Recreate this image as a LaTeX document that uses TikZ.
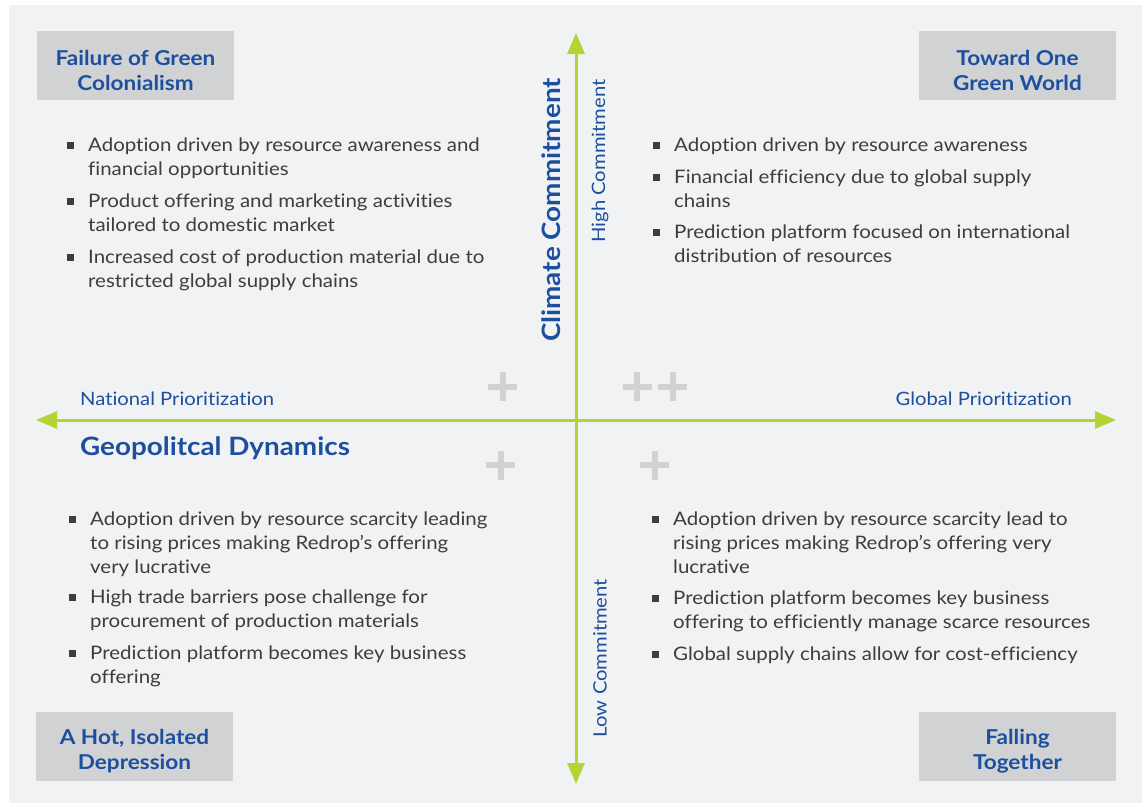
\documentclass[tikz,border=0pt]{standalone}
\usepackage{fontspec}
\setmainfont{Lato}[FakeStretch=1.1, Ligatures=NoCommon]
\usetikzlibrary{arrows.meta,calc}
\definecolor{bgc}{HTML}{F1F2F4}
\definecolor{boxc}{HTML}{D1D2D4}
\definecolor{bluec}{HTML}{1D4F9F}
\definecolor{greenc}{HTML}{B4D334}
\definecolor{textc}{HTML}{3D3D3D}
\definecolor{plusc}{HTML}{D1D2D4}
\newcommand\bulitem[4]{%
  \node[bullettext] (#1) at (#2,#3+1) {\vtop{\baselineskip=24pt\relax #4}};
  \fill[textc] ($(#1.base west)+(-21,-9)$) rectangle ($(#1.base west)+(-14,-2)$);
}
\newcommand\plussign[2]{%
  \draw[plusline] (#1-14.5,#2) -- (#1+14.5,#2) (#1,#2-14.5) -- (#1,#2+14.5);
}
\newcommand\cornerlabel[4]{%
  \node[cornerbox] (#1) at (#2,#3) {};
  \node[cornertext] (#1-text) at ($(#1.center)+(0,4.5)$) {#4};
}
\begin{document}
\begin{tikzpicture}[x=1pt,y=-1pt,
  cornerbox/.style={fill=boxc, minimum width=197pt, minimum height=69pt, inner sep=0pt},
  cornertext/.style={text=bluec, font=\fontsize{20.5}{25}\selectfont\bfseries,
    align=center, inner sep=0pt},
  bullettext/.style={anchor=base west, inner sep=0pt, text=textc,
    font=\fontsize{18.6}{24}\selectfont},
  axislabel/.style={text=bluec, font=\fontsize{18.4}{22}\selectfont, inner sep=0pt},
  axis/.style={draw=greenc, line width=3pt,
    {Triangle[width=17pt,length=21pt]}-{Triangle[width=17pt,length=21pt]}},
  plusline/.style={draw=plusc, line width=6pt}]
\useasboundingbox (0,0) rectangle (1142,803);
\fill[white] (0,0) rectangle (1142,803);
\fill[bgc] (9,5) rectangle (1142,803);

% corner boxes
\cornerlabel{tl}{135.5}{65.5}{Failure of Green\\Colonialism}
\cornerlabel{tr}{1017.5}{65.5}{Toward One\\Green World}
\cornerlabel{bl}{134.5}{746.5}{A Hot, Isolated\\Depression}
\cornerlabel{br}{1017.5}{746.5}{Falling\\Together}

% axes
\coordinate (top) at (576,33);
\coordinate (bottom) at (576,784);
\coordinate (left) at (36,420);
\coordinate (right) at (1116,420);
\draw[axis] (bottom) -- (top);
\draw[axis] (left) -- (right);

% axis labels
\node[text=bluec, font=\fontsize{25.3}{30}\selectfont\bfseries, rotate=90, inner sep=0pt] (cc) at (551,210) {Climate Commitment};
\node[axislabel, rotate=90] (hc) at (600,161) {High Commitment};
\node[axislabel, rotate=90] (lc) at (600,658) {Low Commitment};
\node[axislabel, anchor=west] (np) at (80,398.5) {National Prioritization};
\node[axislabel, anchor=east] (gp) at (1072,398.5) {Global Prioritization};
\node[text=bluec, font=\fontsize{25.3}{30}\selectfont\bfseries, anchor=west, inner sep=0pt] (gd) at (80,448.5) {Geopolitcal Dynamics};

% plus signs
\plussign{502.5}{386.5}
\plussign{637}{386.5}
\plussign{672.5}{386.5}
\plussign{500.5}{465}
\plussign{654.5}{465}

% top-left bullets
\bulitem{tla}{88}{150}{\hbox{Adoption driven by resource awareness and}\hbox{financial opportunities}}
\bulitem{tlb}{88}{206}{\hbox{Product offering and marketing activities}\hbox{tailored to domestic market}}
\bulitem{tlc}{88}{262}{\hbox{Increased cost of production material due to}\hbox{restricted global supply chains}}

% top-right bullets
\bulitem{tra}{674}{150}{\hbox{Adoption driven by resource awareness}}
\bulitem{trb}{674}{182}{\hbox{Financial efficiency due to global supply}\hbox{chains}}
\bulitem{trc}{674}{237}{\hbox{Prediction platform focused on international}\hbox{distribution of resources}}

% bottom-left bullets
\bulitem{bla}{90}{524}{\hbox{Adoption driven by resource scarcity leading}\hbox{to rising prices making Redrop’s offering}\hbox{very lucrative}}
\bulitem{blb}{90}{602}{\hbox{High trade barriers pose challenge for}\hbox{procurement of production materials}}
\bulitem{blc}{90}{658}{\hbox{Prediction platform becomes key business}\hbox{offering}}

% bottom-right bullets
\bulitem{bra}{673}{524}{\hbox{Adoption driven by resource scarcity lead to}\hbox{rising prices making Redrop’s offering very}\hbox{lucrative}}
\bulitem{brb}{673}{603}{\hbox{Prediction platform becomes key business}\hbox{offering to efficiently manage scarce resources}}
\bulitem{brc}{673}{659}{\hbox{Global supply chains allow for cost-efficiency}}
\end{tikzpicture}
\end{document}
